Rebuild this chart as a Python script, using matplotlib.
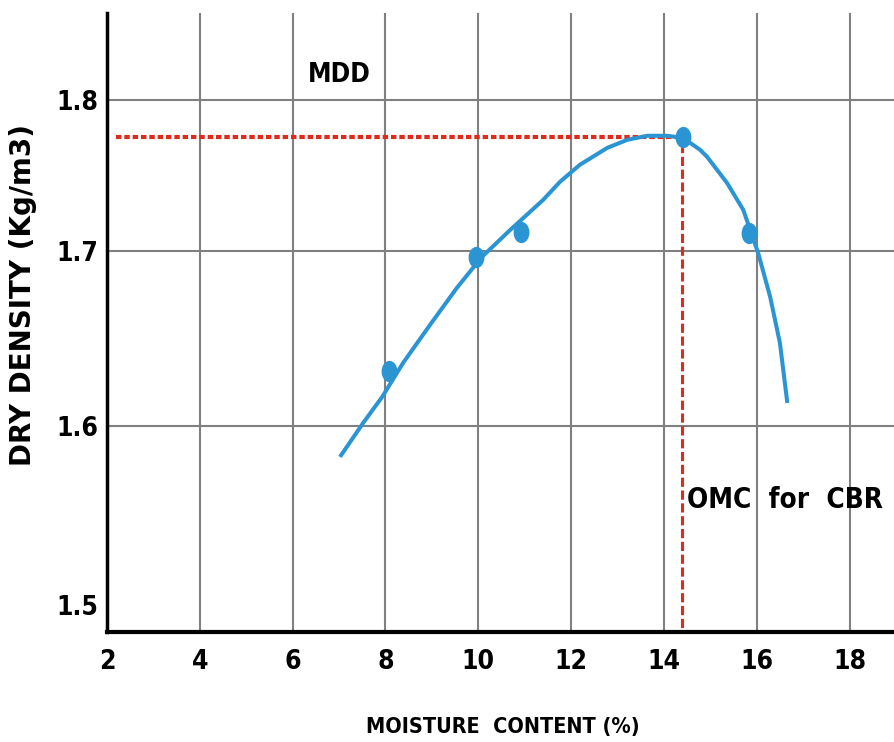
import numpy as np
import matplotlib
matplotlib.use('Agg')
import matplotlib.pyplot as plt
from matplotlib.markers import MarkerStyle
from matplotlib.transforms import Affine2D

# test points
moisture = [8.08, 9.95, 10.92, 14.41, 15.84]
density = [1.6311, 1.6966, 1.7126, 1.7755, 1.7119]

# hand drawn compaction curve
curve_x = [7.02, 7.52, 7.93, 8.38, 8.96, 9.54, 10.08, 10.69, 11.40, 11.76, 12.19, 12.78,
           13.21, 13.64, 14.07, 14.41, 14.78, 14.93, 15.36, 15.71, 16.03, 16.29, 16.50, 16.66]
curve_y = [1.5827, 1.6017, 1.6166, 1.6360, 1.6577, 1.6789, 1.6966, 1.7139, 1.7338, 1.7457,
           1.7570, 1.7682, 1.7735, 1.7762, 1.7762, 1.7748, 1.7669, 1.7623, 1.7450, 1.7272,
           1.6989, 1.6737, 1.6474, 1.6131]

mdd = 1.7755
omc = 14.38

xticks = [2, 4, 6, 8, 10, 12, 14, 16, 18]
yticks = [1.5, 1.6, 1.7, 1.8]

# the printed y axis is not evenly spaced
ref_vals = [1.4, 1.5, 1.6, 1.7, 1.8, 1.9]
ref_pix = [-152, 27, 206, 381, 532, 672]

def fwd(v):
    return np.interp(v, ref_vals, ref_pix)

def inv(p):
    return np.interp(p, ref_pix, ref_vals)

narrow = dict(family='DejaVu Sans', weight='bold', stretch='condensed')
blue = '#2b95d3'
red = '#e02a1c'

fig = plt.figure(figsize=(8.95, 7.42), dpi=100)
ax = fig.add_axes([107/895, 110/742, 788/895, 619/742])
ax.set_yscale('function', functions=(fwd, inv))

ax.plot(curve_x, curve_y, color=blue, lw=2.9, solid_capstyle='butt',
        solid_joinstyle='round', zorder=3)
ell = MarkerStyle('o', transform=Affine2D().scale(0.8, 1.1))
ax.plot(moisture, density, ls='none', marker=ell, ms=13, color=blue, zorder=4)

ax.plot([2.2, 14.4], [mdd, mdd], color=red, lw=3, dashes=(1.3, 0.7), zorder=2)
ax.plot([omc, omc], [1.4, mdd], color=red, lw=2.2, dashes=(3, 1.2), zorder=2)

ax.text(7.0, 1.818, 'MDD', fontsize=19, ha='center', va='center', **narrow)
ax.text(16.61, 1.5587, 'OMC  for  CBR', fontsize=20, ha='center', va='center', **narrow)

ax.set_xlim(2, 18.98)
ax.set_ylim(1.4849, 1.862)
ax.set_xticks(xticks)
ax.set_yticks(yticks)
ax.set_xticklabels([str(t) for t in xticks], fontsize=19, **narrow)
ax.set_yticklabels([str(t) for t in yticks], fontsize=19, **narrow)
ax.tick_params(axis='both', length=0)
ax.tick_params(axis='x', pad=12)
ax.tick_params(axis='y', pad=6)

ax.grid(True, color='#808080', lw=1.5)
ax.yaxis.get_gridlines()[0].set_visible(False)
ax.set_axisbelow(True)

for s in ['top', 'right']:
    ax.spines[s].set_visible(False)
ax.spines['left'].set_linewidth(2.5)
ax.spines['bottom'].set_linewidth(3)

ax.set_xlabel('MOISTURE  CONTENT (%)', fontsize=15.5, va='center', **narrow)
ax.xaxis.set_label_coords((503 - 107) / 788, (632 - 727) / 619)
ax.set_ylabel('DRY DENSITY (Kg/m3)', family='DejaVu Sans', weight='bold', fontsize=20, va='center')
ax.yaxis.set_label_coords((23 - 107) / 788, (632 - 295) / 619)

fig.savefig('out.png', dpi=100)
